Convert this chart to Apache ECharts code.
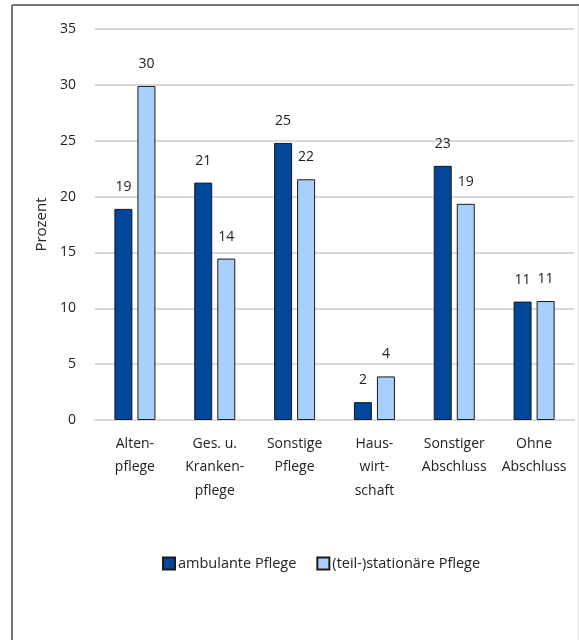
<!DOCTYPE html>
<html>
<head>
<meta charset="utf-8">
<script src="https://cdn.jsdelivr.net/npm/echarts@6/dist/echarts.min.js"></script>
<style>
  html, body { margin: 0; padding: 0; background: #fff; }
  #chart { width: 579px; height: 640px; }
</style>
</head>
<body>
<div id="chart"></div>
<script>
// Qualifikation des Pflegepersonals nach Art der Einrichtung (in Prozent)
const categories = [
  'Alten-\npflege',
  'Ges. u.\nKranken-\npflege',
  'Sonstige\nPflege',
  'Haus-\nwirt-\nschaft',
  'Sonstiger\nAbschluss',
  'Ohne\nAbschluss'
];
const seriesNames = ['ambulante Pflege', '(teil-)stationäre Pflege'];
const ambulant = [18.9, 21.25, 24.8, 1.6, 22.75, 10.6];
const stationaer = [29.9, 14.45, 21.55, 3.9, 19.35, 10.65];
const yTicks = { min: 0, max: 35, interval: 5 };

const FONT = '"Open Sans", "Noto Sans", sans-serif';
const TEXT = '#222';

const labelOpt = {
  show: true,
  position: 'top',
  distance: 15,
  color: TEXT,
  fontFamily: FONT,
  fontSize: 14,
  formatter: p => Math.round(p.value)
};

const chart = echarts.init(document.getElementById('chart'), null, { renderer: 'canvas' });
chart.setOption({
  backgroundColor: '#fff',
  animation: false,
  textStyle: { fontFamily: FONT },
  grid: { left: 95, right: 5, top: 29, bottom: 220, containLabel: false },
  legend: {
    bottom: 64,
    left: 157,
    itemWidth: 12,
    itemHeight: 12,
    itemGap: 20,
    icon: 'rect',
    textStyle: { color: TEXT, fontFamily: FONT, fontSize: 14.5, padding: [0, 0, 0, -2] },
    data: seriesNames
  },
  xAxis: {
    type: 'category',
    data: categories,
    axisTick: { show: false },
    axisLine: { lineStyle: { color: '#d9d9d9', width: 2 } },
    axisLabel: {
      color: TEXT,
      fontFamily: FONT,
      fontSize: 14,
      lineHeight: 23.5,
      margin: 12,
      interval: 0,
      align: 'center'
    }
  },
  yAxis: {
    type: 'value',
    min: yTicks.min,
    max: yTicks.max,
    interval: yTicks.interval,
    name: 'Prozent',
    nameLocation: 'middle',
    nameRotate: 90,
    nameGap: 46,
    nameTextStyle: { color: TEXT, fontFamily: FONT, fontSize: 15 },
    axisLine: { show: false },
    axisTick: { show: false },
    axisLabel: { color: TEXT, fontFamily: FONT, fontSize: 14, margin: 19 },
    splitLine: { lineStyle: { color: '#d9d9d9', width: 2 } }
  },
  series: [
    {
      name: seriesNames[0],
      type: 'bar',
      data: ambulant,
      barWidth: 18,
      barGap: '28%',
      itemStyle: { color: '#00469a', borderColor: '#1b1b1b', borderWidth: 1 },
      label: labelOpt
    },
    {
      name: seriesNames[1],
      type: 'bar',
      data: stationaer,
      barWidth: 18,
      itemStyle: { color: '#a8d0fb', borderColor: '#1b1b1b', borderWidth: 1 },
      label: labelOpt
    }
  ],
  graphic: [
    { type: 'line', shape: { x1: 12, y1: 5, x2: 579, y2: 5 }, style: { stroke: '#767676', lineWidth: 2 } },
    { type: 'line', shape: { x1: 12, y1: 5, x2: 12, y2: 640 }, style: { stroke: '#767676', lineWidth: 2 } },
    { type: 'line', shape: { x1: 578.5, y1: 6, x2: 578.5, y2: 640 }, style: { stroke: '#e4e4e4', lineWidth: 1 } }
  ]
});
</script>
</body>
</html>
